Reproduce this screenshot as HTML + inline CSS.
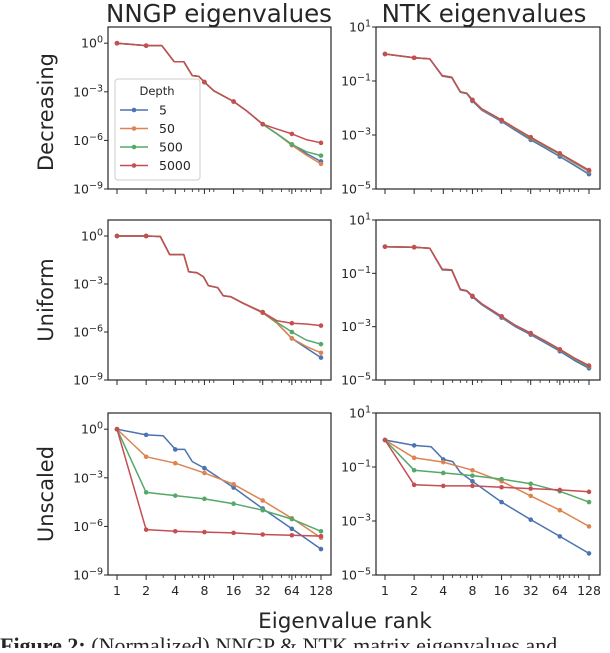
<!DOCTYPE html>
<html><head><meta charset="utf-8"><style>
html,body{margin:0;padding:0;background:#fff;overflow:hidden}
svg text{font-family:"DejaVu Sans","Liberation Sans",sans-serif;fill:#262626}
</style></head><body>
<svg id="fig" width="610" height="648" viewBox="0 0 610 648" xmlns="http://www.w3.org/2000/svg">
<text x="219" y="22" font-size="24.5" text-anchor="middle">NNGP eigenvalues</text>
<text x="484" y="22" font-size="24.5" text-anchor="middle">NTK eigenvalues</text>
<text transform="translate(53,112) rotate(-90)" font-size="21" text-anchor="middle">Decreasing</text>
<text transform="translate(53,300) rotate(-90)" font-size="21" text-anchor="middle">Uniform</text>
<text transform="translate(53,494) rotate(-90)" font-size="21" text-anchor="middle">Unscaled</text>
<text x="345" y="628" font-size="21.5" text-anchor="middle">Eigenvalue rank</text>
<text x="0" y="653" font-size="22" style="font-family:'Liberation Serif',serif"><tspan font-weight="bold">Figure 2:</tspan> (Normalized) NNGP &amp; NTK matrix eigenvalues and</text>
<g id="panels"></g>
</svg>
<script>
// shared rank grids
const ranksNngpDec = [1,2,2.9,3.9,4.9,6,7,8,10,16,22,32,45,64,90,128];
const ranksNtk = [1,2,2.9,3.9,4.9,6,7,8,10,16,22,32,45,64,90,128];
const ranksNngpUni = [1,2,2.8,3.5,4.9,5.5,6.7,7.8,8.8,11,12.5,15,20,32,45,64,90,128];
const ranksUnscaledFine = [1,2,3,4,5,6,8,16,32,64,128];
const ranksUnscaled = [1,2,4,8,16,32,64,128];
// log10 eigenvalues — Decreasing NNGP
const decNngp5    = [0,-0.15,-0.15,-1.14,-1.14,-2.0,-2.05,-2.4,-2.94,-3.6,-4.2,-5.0,-5.6,-6.25,-6.8,-7.3];
const decNngp50   = [0,-0.15,-0.15,-1.14,-1.14,-2.0,-2.05,-2.4,-2.94,-3.6,-4.2,-5.0,-5.6,-6.3,-6.9,-7.45];
const decNngp500  = [0,-0.15,-0.15,-1.14,-1.14,-2.0,-2.05,-2.4,-2.94,-3.6,-4.2,-5.0,-5.6,-6.25,-6.7,-6.94];
const decNngp5000 = [0,-0.15,-0.15,-1.14,-1.14,-2.0,-2.05,-2.4,-2.94,-3.6,-4.2,-5.0,-5.3,-5.6,-5.95,-6.15];
// Decreasing NTK
const decNtk5    = [0,-0.14,-0.18,-0.82,-0.88,-1.42,-1.47,-1.74,-2.08,-2.5,-2.82,-3.18,-3.48,-3.8,-4.12,-4.45];
const decNtk50   = [0,-0.14,-0.18,-0.8,-0.86,-1.4,-1.45,-1.71,-2.05,-2.46,-2.77,-3.12,-3.42,-3.72,-4.04,-4.35];
const decNtk500  = [0,-0.14,-0.18,-0.8,-0.86,-1.4,-1.45,-1.7,-2.04,-2.45,-2.76,-3.11,-3.41,-3.71,-4.02,-4.33];
const decNtk5000 = [0,-0.14,-0.18,-0.8,-0.86,-1.4,-1.45,-1.7,-2.03,-2.44,-2.74,-3.08,-3.38,-3.68,-3.99,-4.3];
// Uniform NNGP
const uniNngp5    = [0,0,-0.03,-1.16,-1.16,-2.24,-2.3,-2.55,-3.1,-3.23,-3.73,-3.8,-4.2,-4.8,-5.45,-6.4,-7.0,-7.6];
const uniNngp50   = [0,0,-0.03,-1.16,-1.16,-2.24,-2.3,-2.55,-3.1,-3.23,-3.73,-3.8,-4.2,-4.8,-5.45,-6.4,-6.9,-7.3];
const uniNngp500  = [0,0,-0.03,-1.16,-1.16,-2.24,-2.3,-2.55,-3.1,-3.23,-3.73,-3.8,-4.2,-4.75,-5.4,-6.0,-6.5,-6.76];
const uniNngp5000 = [0,0,-0.03,-1.16,-1.16,-2.24,-2.3,-2.55,-3.1,-3.23,-3.73,-3.8,-4.2,-4.77,-5.3,-5.45,-5.5,-5.6];
// Uniform NTK
const uniNtk5    = [0,-0.02,-0.06,-0.87,-0.89,-1.62,-1.67,-1.88,-2.18,-2.66,-2.99,-3.3,-3.6,-3.92,-4.26,-4.56];
const uniNtk50   = [0,-0.02,-0.06,-0.85,-0.87,-1.6,-1.65,-1.85,-2.15,-2.62,-2.95,-3.25,-3.55,-3.87,-4.2,-4.5];
const uniNtk500  = [0,-0.02,-0.06,-0.85,-0.87,-1.6,-1.65,-1.85,-2.15,-2.62,-2.95,-3.25,-3.55,-3.87,-4.2,-4.5];
const uniNtk5000 = [0,-0.02,-0.06,-0.85,-0.87,-1.6,-1.65,-1.85,-2.14,-2.61,-2.94,-3.24,-3.53,-3.85,-4.17,-4.46];
// Unscaled NNGP
const unsNngp5    = [0,-0.35,-0.4,-1.25,-1.25,-2.0,-2.4,-3.6,-4.9,-6.15,-7.4];
const unsNngp50   = [0,-1.7,-2.1,-2.7,-3.4,-4.4,-5.5,-6.7];
const unsNngp500  = [0,-3.9,-4.1,-4.3,-4.6,-5.0,-5.55,-6.3];
const unsNngp5000 = [0,-6.2,-6.3,-6.35,-6.4,-6.5,-6.55,-6.6];
// Unscaled NTK
const unsNtk5    = [0,-0.2,-0.25,-0.72,-0.8,-1.2,-1.53,-2.3,-2.95,-3.57,-4.2];
const unsNtk50   = [0,-0.66,-0.82,-1.12,-1.53,-2.07,-2.6,-3.2];
const unsNtk500  = [0,-1.12,-1.22,-1.32,-1.45,-1.62,-1.9,-2.3];
const unsNtk5000 = [0,-1.66,-1.7,-1.7,-1.75,-1.8,-1.85,-1.92];
// ticks / legend
const xTickRanks = [1,2,4,8,16,32,64,128];
const xTickLabels = ["1","2","4","8","16","32","64","128"];
const xMinorRanks = [3,5,6,7,9,10,20,30,40,50,60,70,80,90,100];
const nngpYTicks = [0,-3,-6,-9];
const ntkYTicks = [1,-1,-3,-5];
const depthLabels = ["5","50","500","5000"];
const colors = ["#4c72b0","#dd8452","#55a868","#c44e52"];

const NS = "http://www.w3.org/2000/svg";
const root = document.getElementById("panels");
function mk(tag, attrs, parent){const e=document.createElementNS(NS,tag);for(const k in attrs)e.setAttribute(k,attrs[k]);(parent||root).appendChild(e);return e;}

const rows = [{top:27,bot:189},{top:220,bot:380},{top:413,bot:575}];
const cols = [{x0:108,x1:331,r1:117,r128:321,ymax:1,ymin:-9,ticks:nngpYTicks},{x0:376,x1:600,r1:385,r128:589,ymax:1,ymin:-5,ticks:ntkYTicks}];

const panels = [
 [[ranksNngpDec,ranksNngpDec,ranksNngpDec,ranksNngpDec],[decNngp5,decNngp50,decNngp500,decNngp5000],0,0,"nngp-decreasing"],
 [[ranksNtk,ranksNtk,ranksNtk,ranksNtk],[decNtk5,decNtk50,decNtk500,decNtk5000],0,1,"ntk-decreasing"],
 [[ranksNngpUni,ranksNngpUni,ranksNngpUni,ranksNngpUni],[uniNngp5,uniNngp50,uniNngp500,uniNngp5000],1,0,"nngp-uniform"],
 [[ranksNtk,ranksNtk,ranksNtk,ranksNtk],[uniNtk5,uniNtk50,uniNtk500,uniNtk5000],1,1,"ntk-uniform"],
 [[ranksUnscaledFine,ranksUnscaled,ranksUnscaled,ranksUnscaled],[unsNngp5,unsNngp50,unsNngp500,unsNngp5000],2,0,"nngp-unscaled"],
 [[ranksUnscaledFine,ranksUnscaled,ranksUnscaled,ranksUnscaled],[unsNtk5,unsNtk50,unsNtk500,unsNtk5000],2,1,"ntk-unscaled"]
];

panels.forEach(([rk,vals,ri,ci,name])=>{
  const r=rows[ri], c=cols[ci];
  const g=mk("g",{});
  
  
  const xs = v => c.r1 + Math.log2(v)*(c.r128-c.r1)/7;
  const ys = lv => r.top + (c.ymax-lv)*(r.bot-r.top)/(c.ymax-c.ymin);
  vals.forEach((arr,si)=>{
    const ranks=rk[si];
    const pts=arr.map((v,i)=>xs(ranks[i]).toFixed(1)+","+ys(v).toFixed(1)).join(" ");
    const pl=mk("polyline",{points:pts,fill:"none",stroke:colors[si],"stroke-width":1.5,"stroke-linejoin":"round"},g);
    
    
    arr.forEach((v,i)=>{
      if(xTickRanks.indexOf(ranks[i])<0) return;
      const d=mk("circle",{cx:xs(ranks[i]),cy:ys(v),r:2.3,fill:colors[si]},g);
      
      
    });
  });
  const fr=mk("rect",{x:c.x0,y:r.top,width:c.x1-c.x0,height:r.bot-r.top,fill:"none",stroke:"#262626","stroke-width":1.2},g);
  
  
  c.ticks.forEach(t=>{
    const y=ys(t);
    mk("line",{x1:c.x0-4,x2:c.x0,y1:y,y2:y,stroke:"#262626","stroke-width":1},g);
    const tx=mk("text",{x:c.x0-5,y:y+4.5,"font-size":12.5,"text-anchor":"end"},g);
    
    
    tx.innerHTML='10<tspan dy="-5" font-size="9.5">'+(t<0?'\u2212'+(-t):t)+'</tspan>';
  });
  xTickRanks.forEach((v,i)=>{
    const x=xs(v);
    mk("line",{x1:x,x2:x,y1:r.bot,y2:r.bot+5,stroke:"#262626","stroke-width":1},g);
    if(ri===2){
      const tx=mk("text",{x:x,y:r.bot+20,"font-size":12.5,"text-anchor":"middle"},g);
      
      
      tx.textContent=xTickLabels[i];
    }
  });
  xMinorRanks.forEach(v=>{
    const x=xs(v);
    mk("line",{x1:x,x2:x,y1:r.bot,y2:r.bot+3,stroke:"#262626","stroke-width":0.8},g);
  });
});

const lg=mk("g",{});


mk("rect",{x:115,y:79,width:85,height:101,rx:3,fill:"#fff","fill-opacity":0.9,stroke:"#cccccc","stroke-width":1},lg);
const lt=mk("text",{x:157,y:95,"font-size":11.5,"text-anchor":"middle"},lg);


lt.textContent="Depth";
depthLabels.forEach((d,i)=>{
  const y=110+i*18.5;
  const e=mk("g",{},lg);
  
  
  mk("line",{x1:120,x2:148,y1:y,y2:y,stroke:colors[i],"stroke-width":1.6},e);
  mk("circle",{cx:134,cy:y,r:2.3,fill:colors[i]},e);
  const t=mk("text",{x:159,y:y+4.5,"font-size":12.5},e);
  t.textContent=d;
});
</script>
</body></html>
